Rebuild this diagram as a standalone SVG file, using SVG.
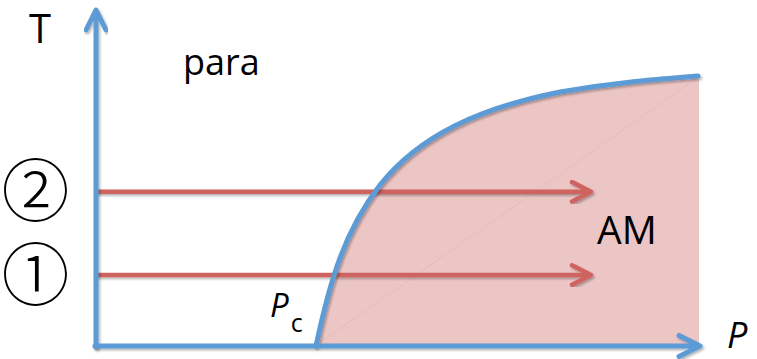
<svg xmlns="http://www.w3.org/2000/svg" width="757" height="359" viewBox="0 0 757 359">
  <defs>
    <filter id="sh" x="-10%" y="-10%" width="120%" height="120%">
      <feDropShadow dx="1.5" dy="1.8" stdDeviation="1.2" flood-color="#000" flood-opacity="0.3"/>
    </filter>
  </defs>
  <style>
    .blue { fill: none; stroke: #5B9BD5; stroke-width: 5; stroke-linecap: round; stroke-linejoin: round; }
    .red { fill: none; stroke: #CF6360; stroke-width: 4.5; stroke-linecap: round; stroke-linejoin: round; }
    .lbl { font-family: "Open Sans", "Liberation Sans", sans-serif; fill: #000; }
    .it { font-style: italic; }
    .circ { font-family: "Noto Sans CJK JP", "DejaVu Sans", sans-serif; fill: #000; font-weight: 300; }
  </style>
  <rect width="757" height="359" fill="#fff"/>

  <g id="region-AM">
    <path d="M316,346 C330,280 345,230 380,185 C420,135 480,108 560,92 C620,82 660,79 699,76 L699,346 Z" fill="#ECC6C5"/>
    <line x1="318" y1="344" x2="697" y2="78" stroke="#E4BCBC" stroke-width="1"/>
  </g>

  <g id="connectors">
    <g id="arrow-path-2" filter="url(#sh)">
      <path class="red" d="M96,191.7 L590,191.7 M572,182 L591,191.7 L572,201.4"/>
    </g>
    <g id="arrow-path-1" filter="url(#sh)">
      <path class="red" d="M96,275 L590,275 M572,265.3 L591,275 L572,284.7"/>
    </g>
    <g id="phase-boundary" filter="url(#sh)">
      <path class="blue" stroke-width="4.5" d="M316,346 C330,280 345,230 380,185 C420,135 480,108 560,92 C620,82 660,79 698,76"/>
    </g>
    <g id="axis-T" filter="url(#sh)">
      <path class="blue" d="M96,347 L96,11 M86,30 L96,10 L106,30"/>
    </g>
    <g id="axis-P" filter="url(#sh)">
      <path class="blue" d="M95,346 L699,346 M679,335.5 L700,346 L679,356.5"/>
    </g>
  </g>

  <g id="label-T"><text class="lbl" x="29" y="43" font-size="40">T</text></g>
  <g id="label-para"><text class="lbl" x="183" y="75" font-size="36">para</text></g>
  <g id="label-AM"><text class="lbl" x="597" y="244" font-size="39">AM</text></g>
  <g id="label-2"><text class="circ" x="35.5" y="216" font-size="68" text-anchor="middle">②</text></g>
  <g id="label-1"><text class="circ" x="35.5" y="299.5" font-size="68" text-anchor="middle">①</text></g>
  <g id="label-Pc"><text class="lbl it" x="270" y="317" font-size="33">P<tspan font-size="25" font-style="normal" dy="15" dx="2">c</tspan></text></g>
  <g id="label-P"><text class="lbl it" x="727" y="348" font-size="36">P</text></g>
</svg>
